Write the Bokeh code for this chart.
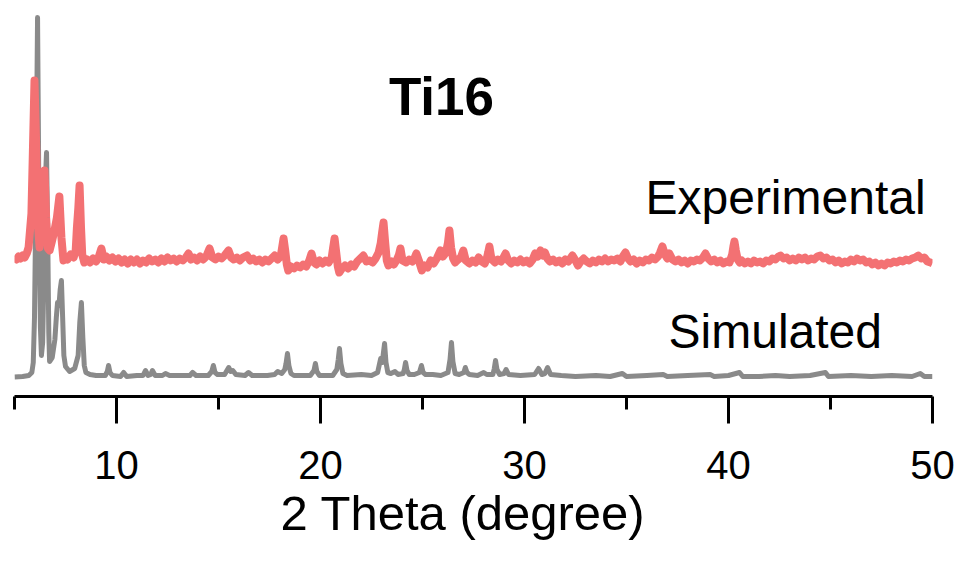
import numpy as np
from bokeh.plotting import figure
from bokeh.models import ColumnDataSource, FixedTicker, Label, Range1d, Title
from bokeh.embed import file_html
from bokeh.resources import INLINE

# ---- data (2 theta in degree, intensity in arbitrary units) ----
sim_two_theta = [
    5.0, 5.4, 5.7, 5.85, 5.92, 5.98, 6.05, 6.13, 6.2, 6.27,
    6.32, 6.38, 6.45, 6.52, 6.57, 6.63, 6.68, 6.72, 6.85, 6.98,
    7.05, 7.11, 7.18, 7.24, 7.3, 7.36, 7.42, 7.5, 7.7, 7.95,
    8.12, 8.2, 8.28, 8.35, 8.42, 8.5, 8.7, 9.0, 9.45, 9.55,
    9.61, 9.68, 9.8, 10.2, 10.35, 10.5, 11.0, 11.3, 11.42, 11.55,
    11.68, 11.76, 11.9, 12.25, 12.4, 12.6, 13.2, 13.6, 13.73, 13.9,
    14.5, 14.67, 14.75, 14.83, 14.95, 15.3, 15.5, 15.6, 15.7, 15.85,
    16.3, 16.47, 16.65, 17.4, 17.75, 17.9, 18.1, 18.25, 18.31, 18.38,
    18.45, 18.55, 18.7, 19.5, 19.68, 19.75, 19.82, 19.95, 20.6, 20.8,
    20.87, 20.93, 21.0, 21.1, 21.3, 22.0, 22.5, 22.8, 22.95, 23.03,
    23.08, 23.14, 23.21, 23.3, 23.45, 23.65, 23.8, 24.05, 24.11, 24.17,
    24.24, 24.35, 24.6, 24.85, 24.95, 25.03, 25.15, 25.5, 25.9, 26.25,
    26.35, 26.42, 26.49, 26.6, 26.8, 27.03, 27.1, 27.18, 27.3, 27.7,
    28.0, 28.15, 28.45, 28.52, 28.58, 28.65, 28.78, 29.0, 29.1, 29.22,
    29.8, 30.5, 30.69, 30.85, 31.0, 31.13, 31.28, 31.8, 32.5, 33.5,
    34.2, 34.8, 35.0, 36.0, 36.8, 37.0, 38.0, 39.1, 39.3, 40.0,
    40.54, 40.7, 41.5, 42.3, 43.0, 44.0, 44.75, 44.9, 46.0, 47.0,
    48.0, 49.0, 49.4, 49.6, 50.0]
sim_intensity = [
    0.5, 1, 2, 5, 15, 60, 180, 360, 170, 50,
    22, 35, 110, 200, 225, 140, 45, 16, 20, 38,
    60, 75, 72, 88, 97, 60, 22, 11, 6, 9,
    22, 55, 75, 40, 12, 5, 3, 2, 2, 6,
    12, 5, 2, 1, 5, 1, 2, 2, 7, 2,
    3, 7, 2, 2, 4, 2, 2, 2, 5, 2,
    2, 6, 12, 5, 3, 3, 10, 6, 7, 3,
    2, 5, 2, 2, 3, 6, 4, 8, 14, 24,
    12, 4, 2, 2, 7, 14, 6, 2, 2, 8,
    18, 29, 14, 4, 2, 3, 2, 5, 19, 15,
    24, 34, 15, 5, 4, 6, 3, 4, 8, 15,
    7, 3, 3, 5, 12, 5, 3, 3, 2, 5,
    18, 35, 16, 4, 3, 5, 10, 5, 3, 2,
    5, 3, 3, 9, 17, 8, 3, 4, 8, 3,
    2, 3, 9, 3, 4, 10, 3, 2, 1, 2,
    1, 4, 1, 2, 3, 1, 2, 3, 1, 2,
    5, 1, 1, 2, 1, 2, 5, 1, 2, 1,
    2, 1, 4, 1, 1]

exp_two_theta = [
    5.0, 5.1, 5.2, 5.3, 5.4, 5.5, 5.6, 5.69, 5.76, 5.83,
    5.9, 5.98, 6.06, 6.14, 6.23, 6.31, 6.39, 6.47, 6.55, 6.64,
    6.72, 6.82, 6.96, 7.08, 7.2, 7.3, 7.4, 7.5, 7.6, 7.75,
    7.9, 8.0, 8.06, 8.13, 8.19, 8.26, 8.32, 8.42, 8.55, 8.7,
    8.85, 9.0, 9.12, 9.26, 9.38, 9.5, 9.65, 9.8, 9.95, 10.1,
    10.25, 10.4, 10.55, 10.7, 10.85, 11.0, 11.15, 11.3, 11.45, 11.6,
    11.75, 11.9, 12.05, 12.2, 12.35, 12.5, 12.65, 12.8, 12.95, 13.1,
    13.25, 13.4, 13.53, 13.65, 13.8, 13.95, 14.1, 14.25, 14.4, 14.56,
    14.7, 14.85, 15.0, 15.15, 15.3, 15.49, 15.62, 15.75, 15.9, 16.05,
    16.2, 16.4, 16.55, 16.7, 16.85, 17.0, 17.15, 17.3, 17.45, 17.6,
    17.75, 17.9, 18.05, 18.12, 18.19, 18.27, 18.35, 18.42, 18.55, 18.7,
    18.85, 19.0, 19.15, 19.3, 19.45, 19.56, 19.68, 19.8, 19.95, 20.1,
    20.25, 20.4, 20.55, 20.62, 20.69, 20.77, 20.85, 20.92, 21.05, 21.2,
    21.35, 21.5, 21.65, 21.8, 21.95, 22.1, 22.25, 22.4, 22.55, 22.7,
    22.85, 22.95, 23.02, 23.09, 23.17, 23.25, 23.33, 23.48, 23.6, 23.75,
    23.85, 23.92, 24.02, 24.2, 24.35, 24.5, 24.62, 24.7, 24.82, 24.97,
    25.1, 25.25, 25.4, 25.55, 25.7, 25.88, 26.0, 26.15, 26.25, 26.32,
    26.4, 26.5, 26.6, 26.75, 26.88, 27.0, 27.12, 27.3, 27.45, 27.6,
    27.75, 27.9, 28.05, 28.15, 28.22, 28.28, 28.36, 28.45, 28.55, 28.7,
    28.85, 28.97, 29.07, 29.2, 29.35, 29.5, 29.65, 29.8, 29.95, 30.1,
    30.25, 30.4, 30.52, 30.65, 30.78, 30.9, 31.0, 31.12, 31.25, 31.4,
    31.55, 31.7, 31.85, 32.0, 32.15, 32.35, 32.5, 32.62, 32.75, 32.9,
    33.05, 33.2, 33.35, 33.5, 33.65, 33.8, 33.95, 34.1, 34.25, 34.4,
    34.55, 34.7, 34.82, 34.95, 35.08, 35.2, 35.35, 35.5, 35.65, 35.8,
    35.95, 36.1, 36.25, 36.4, 36.55, 36.65, 36.76, 36.88, 37.0, 37.1,
    37.25, 37.4, 37.55, 37.7, 37.85, 38.0, 38.15, 38.3, 38.45, 38.6,
    38.75, 38.87, 39.0, 39.15, 39.3, 39.45, 39.6, 39.75, 39.9, 40.05,
    40.18, 40.24, 40.29, 40.36, 40.45, 40.55, 40.65, 40.8, 40.95, 41.1,
    41.25, 41.4, 41.55, 41.7, 41.85, 42.0, 42.15, 42.3, 42.45, 42.55,
    42.7, 42.85, 43.0, 43.15, 43.3, 43.45, 43.6, 43.75, 43.9, 44.05,
    44.2, 44.35, 44.5, 44.65, 44.8, 44.95, 45.1, 45.25, 45.4, 45.55,
    45.7, 45.85, 46.0, 46.15, 46.3, 46.45, 46.6, 46.75, 46.9, 47.05,
    47.2, 47.35, 47.5, 47.65, 47.8, 47.95, 48.1, 48.25, 48.4, 48.55,
    48.7, 48.85, 49.0, 49.15, 49.3, 49.45, 49.6, 49.75, 49.9, 50.0]
exp_intensity = [
    5, 3, 6, 4, 7, 5, 9, 15, 32, 49,
    110, 182, 120, 40, 15, 35, 65, 92, 45, 14,
    12, 20, 32, 45, 66, 25, 2, 6, 3, 8,
    5, 12, 35, 55, 77, 35, 8, 0, 3, 0,
    4, 1, 5, 14, 3, 6, 2, 5, 1, 4,
    0, 3, -1, 3, 0, 3, -1, 2, 0, 4,
    1, 3, 0, 4, 1, 5, 2, 4, 1, 4,
    2, 5, 9, 3, 5, 2, 6, 3, 6, 14,
    5, 3, 6, 4, 7, 12, 5, 3, 5, 2,
    5, 7, 2, 4, 1, 3, 0, 3, 1, 4,
    7, 3, 6, 15, 24, 12, -2, -8, -4, -6,
    -3, -5, -2, -4, 2, 9, 0, -2, 2, -1,
    2, 0, 5, 15, 24, 10, -4, -10, -6, -3,
    -6, -2, -4, 1, 4, 7, 1, 2, 0, 4,
    10, 19, 30, 40, 20, 2, -3, 1, -2, 3,
    8, 14, 2, 0, 3, 1, 5, 9, 2, -8,
    -3, -5, 2, -1, 4, 12, 6, 10, 20, 32,
    15, 4, 0, 3, 5, 12, 2, -1, 2, 0,
    5, 1, -1, 4, 10, 16, 6, 2, 0, 3,
    1, 5, 9, 2, -1, 2, 0, 3, 0, 2,
    -1, 3, 9, 6, 12, 7, 10, 4, 1, 3,
    0, 2, -1, 3, 1, 7, 2, -3, 1, 4,
    1, -1, 2, 0, 3, 1, 4, 1, 3, 2,
    4, 1, 6, 10, 4, 1, 3, -1, 2, 0,
    3, 2, 5, 3, 6, 10, 16, 8, 4, 9,
    3, 1, 3, 0, 2, -1, 2, 1, 3, 2,
    5, 9, 4, 1, 3, 0, 2, -1, 1, 0,
    8, 16, 21, 12, 3, 0, 2, -1, 1, -1,
    2, 0, 1, -1, 2, 1, 4, 3, 6, 7,
    4, 5, 2, 4, 2, 5, 3, 5, 2, 4,
    3, 6, 7, 4, 5, 2, 3, 0, 2, -1,
    1, 0, 3, 1, 4, 2, 3, 0, 1, -2,
    0, -3, -1, -3, 0, -1, 1, 0, 2, 1,
    3, 2, 4, 5, 7, 4, 5, 1, 0, -1]

major_ticks = [10, 20, 30, 40, 50]
minor_ticks = [5, 15, 25, 35, 45]

sim_offset = 19
exp_offset = 134

FONT = "Liberation Sans"

sim_src = ColumnDataSource(dict(x=sim_two_theta, y=np.array(sim_intensity, dtype=float) + sim_offset))
exp_src = ColumnDataSource(dict(x=exp_two_theta, y=np.array(exp_intensity, dtype=float) + exp_offset))

p = figure(width=962, height=562, x_range=Range1d(5, 50), y_range=Range1d(0, 388),
           output_backend="svg", toolbar_location=None,
           min_border_left=14, min_border_right=30, min_border_top=8, min_border_bottom=166)

p.line("x", "y", source=sim_src, line_color="#8a8a8a", line_width=5, line_join="round")
p.line("x", "y", source=exp_src, line_color="#f37173", line_width=8, line_join="round")

p.yaxis.visible = False
p.xgrid.visible = False
p.ygrid.visible = False
p.outline_line_color = None
p.background_fill_color = "white"
p.border_fill_color = "white"

ax = p.xaxis[0]
ax.ticker = FixedTicker(ticks=major_ticks, minor_ticks=minor_ticks)
ax.axis_line_width = 3
ax.axis_line_color = "black"
ax.major_tick_line_width = 3
ax.minor_tick_line_width = 3
ax.major_tick_line_color = "black"
ax.minor_tick_line_color = "black"
ax.major_tick_out = 27
ax.major_tick_in = 0
ax.minor_tick_out = 13
ax.minor_tick_in = 0
ax.major_label_text_font = FONT
ax.major_label_text_font_size = "40px"
ax.major_label_text_color = "black"
ax.major_label_standoff = 27

xlabel = Title(text="2 Theta (degree)", align="left", offset=266, standoff=4,
               text_font=FONT, text_font_size="49px", text_font_style="normal", text_color="black")
p.add_layout(xlabel, "below")

p.add_layout(Label(x=25.93, y=300, text="Ti16", text_align="center", text_baseline="alphabetic",
                   text_font=FONT, text_font_style="bold", text_font_size="53px", text_color="black"))
p.add_layout(Label(x=35.93, y=199, text="Experimental", text_align="left", text_baseline="alphabetic",
                   text_font=FONT, text_font_size="48px", text_color="black"))
p.add_layout(Label(x=37.06, y=65, text="Simulated", text_align="left", text_baseline="alphabetic",
                   text_font=FONT, text_font_size="48px", text_color="black"))

open("out.html", "w").write(file_html(p, INLINE))
